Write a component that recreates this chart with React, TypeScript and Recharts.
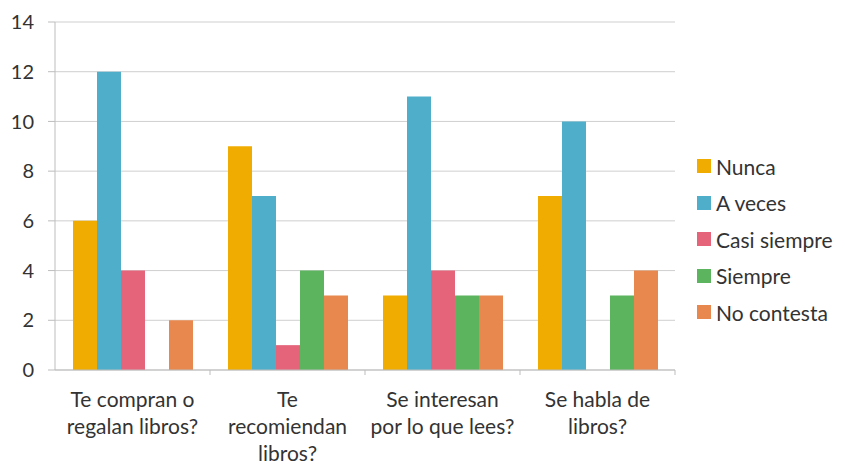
import { BarChart, Bar, XAxis, YAxis, CartesianGrid } from 'recharts';

const categories = [
  ['Te compran o', 'regalan libros?'],
  ['Te', 'recomiendan', 'libros?'],
  ['Se interesan', 'por lo que lees?'],
  ['Se habla de', 'libros?'],
];
const nunca = [6, 9, 3, 7];
const aVeces = [12, 7, 11, 10];
const casiSiempre = [4, 1, 4, 0];
const siempre = [0, 4, 3, 3];
const noContesta = [2, 3, 3, 4];
const yTicks = [0, 2, 4, 6, 8, 10, 12, 14];

const SERIES = [
  { key: 'nunca', name: 'Nunca', color: '#F0AC00' },
  { key: 'aVeces', name: 'A veces', color: '#4FAFCB' },
  { key: 'casiSiempre', name: 'Casi siempre', color: '#E5647A' },
  { key: 'siempre', name: 'Siempre', color: '#5DB45E' },
  { key: 'noContesta', name: 'No contesta', color: '#E8884F' },
];

const data = categories.map((lines, i) => ({
  name: lines.join(' '),
  idx: i,
  nunca: nunca[i],
  aVeces: aVeces[i],
  casiSiempre: casiSiempre[i],
  siempre: siempre[i],
  noContesta: noContesta[i],
}));

const FONT = 'Lato, "Open Sans", sans-serif';

function CategoryTick(props: any) {
  const { x, y, payload, index, width } = props;
  const lines = categories[payload.index ?? index] || [];
  const band = width / categories.length;
  return (
    <g>
      <line x1={x + band / 2} y1={y - 8} x2={x + band / 2} y2={y - 3} stroke="#bdbdbd" />
      <text x={x} y={y} textAnchor="middle" fontFamily={FONT} fontSize={21} fill="#333">
        {lines.map((l: string, k: number) => (
          <tspan key={k} x={x} dy={k === 0 ? 29 : 27}>
            {l}
          </tspan>
        ))}
      </text>
    </g>
  );
}

function Legend() {
  return (
    <div style={{ position: 'absolute', left: 697, top: 148, fontFamily: FONT, fontSize: 21, color: '#333' }}>
      {SERIES.map((s) => (
        <div key={s.key} style={{ display: 'flex', alignItems: 'center', height: 36.5 }}>
          <span style={{ width: 14, height: 14, background: s.color, marginRight: 5, display: 'inline-block' }} />
          {s.name}
        </div>
      ))}
    </div>
  );
}

export default function App() {
  return (
    <div style={{ position: 'absolute', left: 0, top: 0, width: 845, height: 466, background: '#fff' }}>
      <BarChart
        width={845}
        height={466}
        data={data}
        margin={{ top: 22, right: 170, bottom: 0, left: 0 }}
        barGap={0}
        barCategoryGap={18}
      >
        <CartesianGrid vertical={false} stroke="#cfcfcf" />
        <XAxis
          dataKey="name"
          height={96}
          tickLine={false}
          axisLine={{ stroke: '#bdbdbd' }}
          tick={<CategoryTick />}
          interval={0}
        />
        <YAxis
          width={55}
          domain={[0, 14]}
          ticks={yTicks}
          tickSize={7}
          tickLine={{ stroke: '#bdbdbd' }}
          axisLine={{ stroke: '#bdbdbd' }}
          tick={{ fontFamily: FONT, fontSize: 20, fill: '#333' }}
          tickMargin={14}
        />
        {SERIES.map((s) => (
          <Bar key={s.key} dataKey={s.key} name={s.name} fill={s.color} isAnimationActive={false} />
        ))}
      </BarChart>
      <Legend />
    </div>
  );
}
